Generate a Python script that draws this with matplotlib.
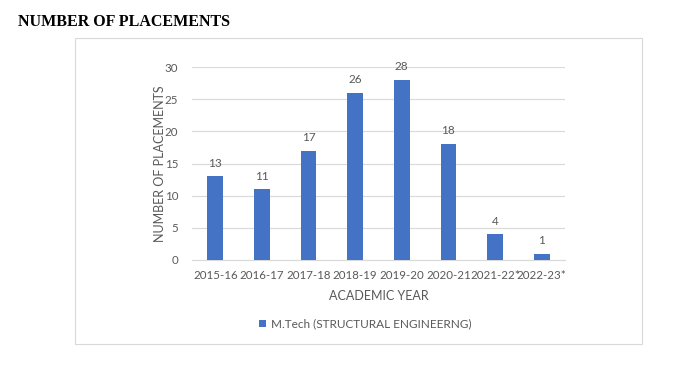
import matplotlib.pyplot as plt
from matplotlib.patches import Rectangle

years = ["2015-16", "2016-17", "2017-18", "2018-19", "2019-20", "2020-21", "2021-22*", "2022-23*"]
placements = [13, 11, 17, 26, 28, 18, 4, 1]
yticks = [0, 5, 10, 15, 20, 25, 30]

blue = "#4472C4"
grey = "#595959"
plt.rcParams['font.family'] = ['Lato', 'DejaVu Sans']

fig = plt.figure(figsize=(6.85, 3.7), dpi=100)

# chart frame
fig.patches.append(Rectangle((0.1095, 0.0703), 0.8277, 0.827, transform=fig.transFigure,
                             fill=False, edgecolor="#D9D9D9", linewidth=0.8))

fig.text(0.026, 0.94, "NUMBER OF PLACEMENTS", fontfamily="Liberation Serif",
         fontweight="bold", fontsize=11.5, va="center", ha="left", color="black")

ax = fig.add_axes([0.2803, 0.2973, 0.5445, 0.5216])
x = range(len(years))
bars = ax.bar(x, placements, width=0.34, color=blue, label="M.Tech (STRUCTURAL ENGINEERNG)", zorder=3)
for xi, v in zip(x, placements):
    ax.text(xi, v + 1.2, str(v), ha="center", va="bottom", fontsize=8.5, color=grey)

ax.set_xlim(-0.5, len(years) - 0.5)
ax.set_ylim(0, 30)
ax.set_yticks(yticks)
ax.set_xticks(list(x))
ax.set_xticklabels(years)
ax.grid(axis="y", color="#D9D9D9", linewidth=0.8, zorder=0)
for s in ["top", "right", "left"]:
    ax.spines[s].set_visible(False)
ax.spines["bottom"].set_color("#D9D9D9")
ax.tick_params(axis="both", length=0, labelsize=8.3, labelcolor=grey)
ax.tick_params(axis="x", pad=7)
ax.tick_params(axis="y", pad=10)
ax.set_xlabel("ACADEMIC YEAR", fontsize=9, color=grey, labelpad=7)
ax.set_ylabel("NUMBER OF PLACEMENTS", fontsize=9, color=grey, labelpad=-1)

fig.legend(handles=[bars], loc="center", bbox_to_anchor=(0.533, 0.124), frameon=False,
           fontsize=8.5, labelcolor=grey, handlelength=0.6, handleheight=0.6, handletextpad=0.4)

fig.savefig("out.png", dpi=100)
